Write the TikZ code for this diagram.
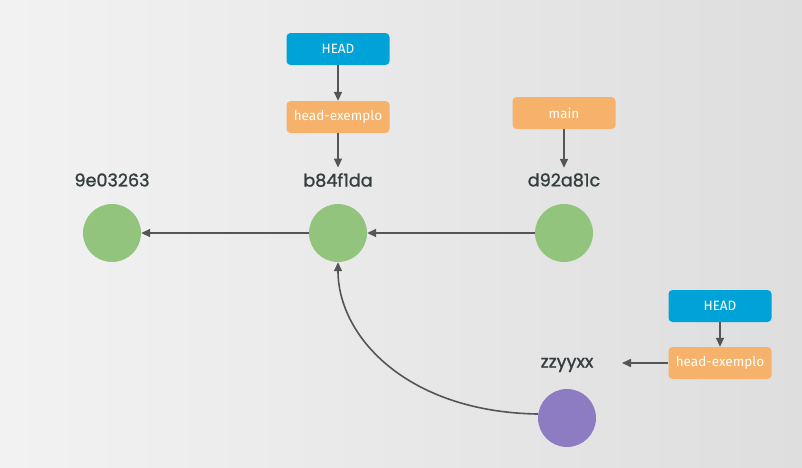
\documentclass[tikz,border=0pt]{standalone}
\usepackage{fontspec}
\setmainfont{Fira Sans}
\newfontfamily\labelfont[FakeBold=1.2]{Poppins}
\usetikzlibrary{arrows.meta}
\definecolor{cgreen}{HTML}{93C47D}
\definecolor{cpurple}{HTML}{8E7CC3}
\definecolor{corange}{HTML}{F6B26B}
\definecolor{cblue}{HTML}{00A3D7}
\definecolor{carrow}{HTML}{555555}
\definecolor{ctext}{HTML}{343E3E}
\tikzset{
  commit/.style={circle, minimum size=58pt, inner sep=0pt, draw=none},
  clabel/.style={font=\labelfont\fontsize{17.6}{20}\selectfont, text=ctext},
  refbox/.style={rounded corners=4pt, minimum width=103pt, minimum height=32pt, text=white, font=\fontsize{13.5}{15}\selectfont, inner sep=0pt},
  headbox/.style={refbox, fill=cblue},
  branchbox/.style={refbox, fill=corange},
  conn/.style={draw=carrow, line width=1.6pt, -{Triangle[width=8pt,length=9pt]}},
}
\begin{document}
\begin{tikzpicture}[x=1pt,y=-1pt]
\shade[left color=white!95!black, right color=white!87!black] (0,0) rectangle (802,467);
\useasboundingbox (0,0) rectangle (802,467);

\node[commit, fill=cgreen] (c1) at (112,233) {};
\node[commit, fill=cgreen] (c2) at (338,233) {};
\node[commit, fill=cgreen] (c3) at (564,233) {};
\node[commit, fill=cpurple] (c5) at (567,418) {};

\node[clabel] (l1) at (112,180) {9e03263};
\node[clabel] (l2) at (338,180) {b84f1da};
\node[clabel] (l3) at (564,180) {d92a81c};
\node[clabel] (l5) at (567,365) {zzyyxx};

\node[headbox] (h1) at (338,49) {HEAD};
\node[branchbox] (b1) at (338,117) {head-exemplo};
\node[branchbox] (m) at (564,113) {main};
\node[headbox] (h2) at (720,306) {HEAD};
\node[branchbox] (b2) at (720,363) {head-exemplo};
\coordinate (p2) at (622,363);

\draw[conn] (h1) -- (b1);
\draw[conn] (b1) -- ([yshift=2pt]l2.north);
\draw[conn] (m) -- ([yshift=2pt]l3.north);
\draw[conn] (h2) -- (b2);
\draw[conn] (b2) -- (p2);

\draw[conn] (c3) -- (c2);
\draw[conn] (c2) -- (c1);
\draw[conn] ([yshift=4pt]c5.west) .. controls ([xshift=-130pt,yshift=6pt]c5.west) and ([yshift=-75pt]c2.south) .. (c2.south);
\end{tikzpicture}
\end{document}
